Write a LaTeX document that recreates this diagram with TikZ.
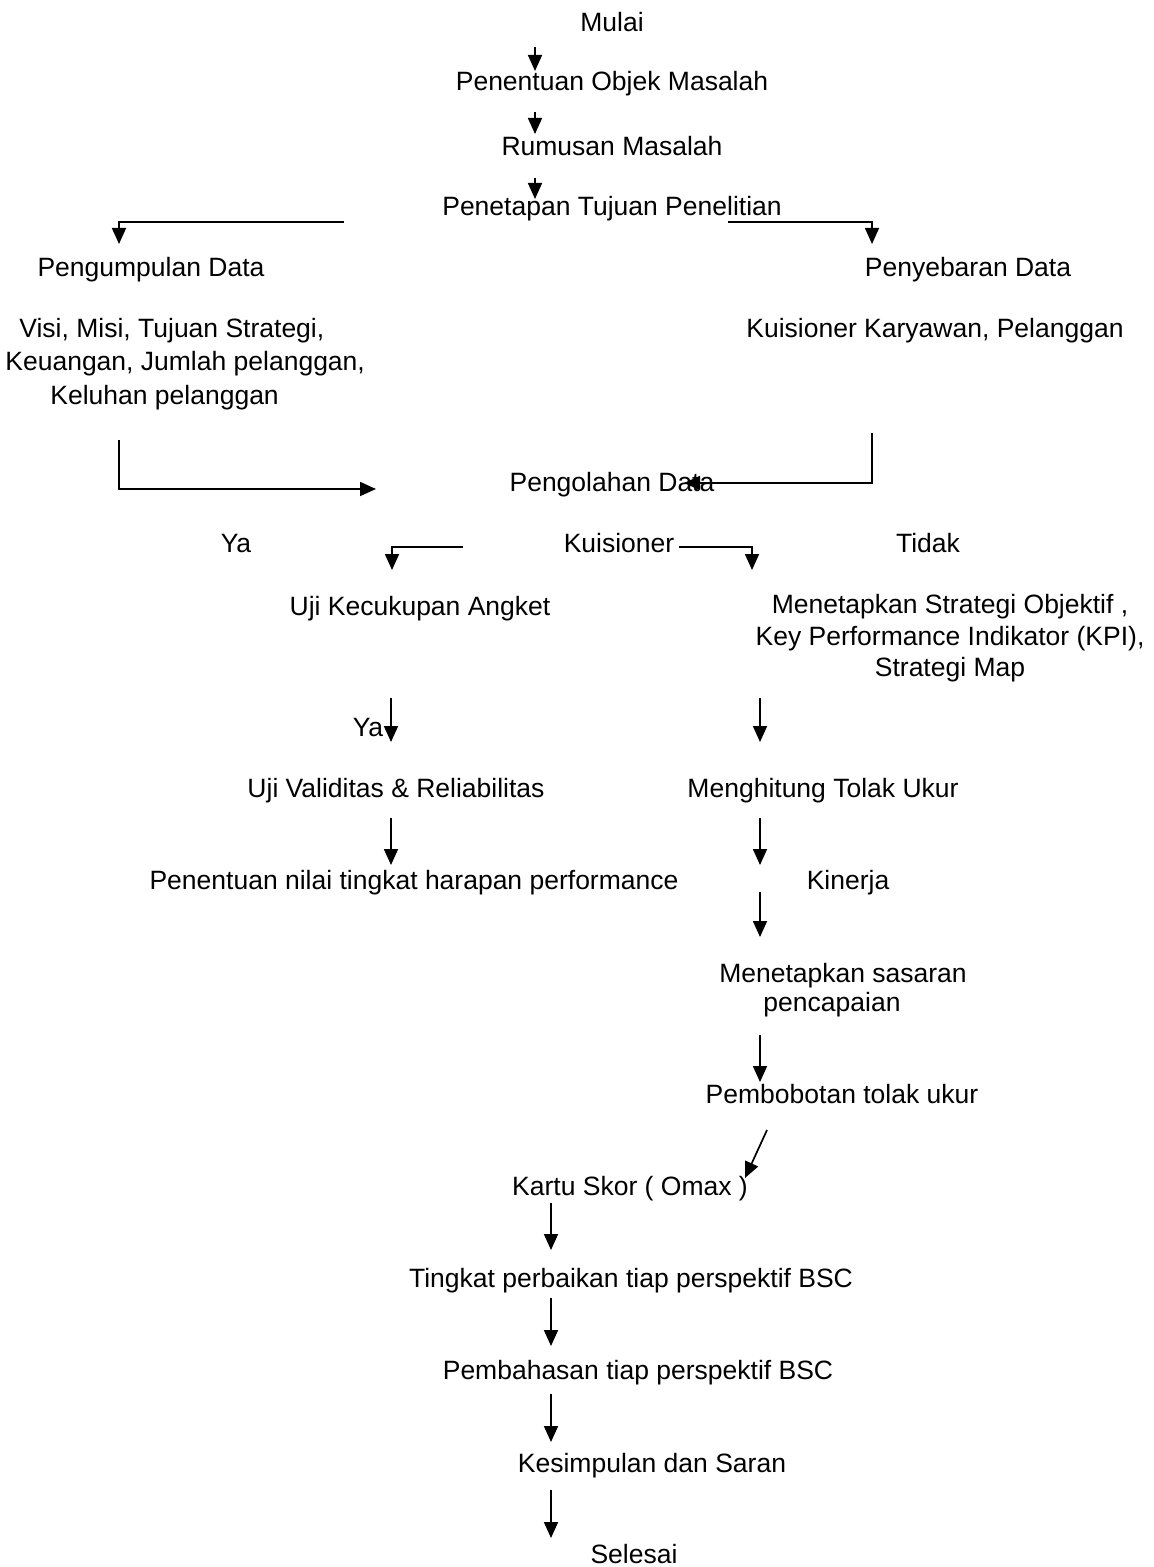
\documentclass[tikz,border=0pt]{standalone}
\usepackage{fontspec}
\setmainfont{Liberation Sans}
\usetikzlibrary{arrows.meta}
\begin{document}
\begin{tikzpicture}[x=0.5pt,y=-0.5pt,
  lbl/.style={inner sep=0pt, font=\fontsize{13.25pt}{16pt}\selectfont},
  lblb/.style={lbl, anchor=base},
  blk/.style={inner sep=0pt, align=center, anchor=center},
  arr/.style={draw=black, line width=0.85pt, -{Triangle[length=8pt,width=7pt]}},
  ln/.style={draw=black, line width=0.85pt}]
\useasboundingbox (0,0) rectangle (1153,1567);

% ---------------- text nodes ----------------
\node[lblb] (mulai) at (612,32) {Mulai};
\node[lblb] (objek) at (612,91) {Penentuan Objek Masalah};
\node[lblb] (rumus) at (612,156) {Rumusan Masalah};
\node[lblb] (tujuan) at (612,216) {Penetapan Tujuan Penelitian};
\node[lblb] (kumpul) at (151,277) {Pengumpulan Data};
\node[lblb] (sebar) at (968,277) {Penyebaran Data};
\node[inner sep=0pt, align=left, anchor=west, font=\fontsize{13.25pt}{16.75pt}\selectfont] (visi) at (5,364)
  {\hspace*{7pt}Visi, Misi, Tujuan Strategi,\\Keuangan, Jumlah pelanggan,\\\hspace*{22.5pt}Keluhan pelanggan};
\node[lblb] (kuiskar) at (935,337) {Kuisioner Karyawan, Pelanggan};
\node[lblb] (olah) at (612,491) {Pengolahan Data};
\node[lblb] (ya1) at (236,552) {Ya};
\node[lblb] (kuis) at (619,552) {Kuisioner};
\node[lblb] (tidak) at (928,552) {Tidak};
\node[lblb] (angket) at (420,615) {Uji Kecukupan Angket};
\node[blk, font=\fontsize{13.25pt}{15.75pt}\selectfont] (kpi) at (950,638.5)
  {Menetapkan Strategi Objektif ,\\Key Performance Indikator (KPI),\\Strategi Map};
\node[lblb] (ya2) at (368,736) {Ya};
\node[lblb] (valid) at (396,797) {Uji Validitas \& Reliabilitas};
\node[lblb] (hitung) at (823,797) {Menghitung Tolak Ukur};
\node[lblb] (nilai) at (414,889) {Penentuan nilai tingkat harapan performance};
\node[lblb] (kinerja) at (848,889) {Kinerja};
\node[blk, font=\fontsize{13.25pt}{14.5pt}\selectfont] (sasaran) at (843,990)
  {Menetapkan sasaran\\pencapaian\hspace*{11pt}};
\node[lblb] (bobot) at (842,1103) {Pembobotan tolak ukur};
\node[lblb] (kartu) at (630,1195) {Kartu Skor ( Omax )};
\node[lblb] (tingkat) at (631,1287) {Tingkat perbaikan tiap perspektif BSC};
\node[lblb] (bahas) at (638,1379) {Pembahasan tiap perspektif BSC};
\node[lblb] (simpul) at (652,1472) {Kesimpulan dan Saran};
\node[lblb] (selesai) at (634,1563) {Selesai};

% ---------------- connector points ----------------
\coordinate (a1s) at (535,47);   \coordinate (a1e) at (535,71);
\coordinate (a2s) at (535,112);  \coordinate (a2e) at (535,134);
\coordinate (a3s) at (535,178);  \coordinate (a3e) at (535,199);
\coordinate (a4s) at (344,222);  \coordinate (a4c) at (119,222);  \coordinate (a4e) at (119,244);
\coordinate (a5s) at (728,222);  \coordinate (a5c) at (872,222);  \coordinate (a5e) at (872,244);
\coordinate (a6s) at (119,440);  \coordinate (a6c) at (119,489);  \coordinate (a6e) at (376,489);
\coordinate (a7s) at (872,433);  \coordinate (a7c) at (872,483);  \coordinate (a7e) at (684,483);
\coordinate (a8s) at (463,547);  \coordinate (a8c) at (392,547);  \coordinate (a8e) at (392,570);
\coordinate (a9s) at (679,547);  \coordinate (a9c) at (752,547);  \coordinate (a9e) at (752,570);
\coordinate (a10s) at (391,698); \coordinate (a10e) at (391,742);
\coordinate (a11s) at (760,698); \coordinate (a11e) at (760,742);
\coordinate (a12s) at (391,818); \coordinate (a12e) at (391,865);
\coordinate (a13s) at (760,818); \coordinate (a13e) at (760,865);
\coordinate (a14s) at (760,892); \coordinate (a14e) at (760,937);
\coordinate (a15s) at (760,1035); \coordinate (a15e) at (760,1082);
\coordinate (a16s) at (767,1130); \coordinate (a16e) at (745,1178);
\coordinate (a17s) at (551,1203); \coordinate (a17e) at (551,1250);
\coordinate (a18s) at (551,1298); \coordinate (a18e) at (551,1346);
\coordinate (a19s) at (551,1394); \coordinate (a19e) at (551,1442);
\coordinate (a20s) at (551,1490); \coordinate (a20e) at (551,1538);

% ---------------- connectors ----------------
\draw[arr] (a1s) -- (a1e);
\draw[arr] (a2s) -- (a2e);
\draw[arr] (a3s) -- (a3e);
\draw[arr] (a4s) -- (a4c) -- (a4e);
\draw[arr] (a5s) -- (a5c) -- (a5e);
\draw[arr] (a6s) -- (a6c) -- (a6e);
\draw[arr] (a7s) -- (a7c) -- (a7e);
\draw[arr] (a8s) -- (a8c) -- (a8e);
\draw[arr] (a9s) -- (a9c) -- (a9e);
\draw[arr] (a10s) -- (a10e);
\draw[arr] (a11s) -- (a11e);
\draw[arr] (a12s) -- (a12e);
\draw[arr] (a13s) -- (a13e);
\draw[arr] (a14s) -- (a14e);
\draw[arr] (a15s) -- (a15e);
\draw[arr] (a16s) -- (a16e);
\draw[arr] (a17s) -- (a17e);
\draw[arr] (a18s) -- (a18e);
\draw[arr] (a19s) -- (a19e);
\draw[arr] (a20s) -- (a20e);
\end{tikzpicture}
\end{document}
